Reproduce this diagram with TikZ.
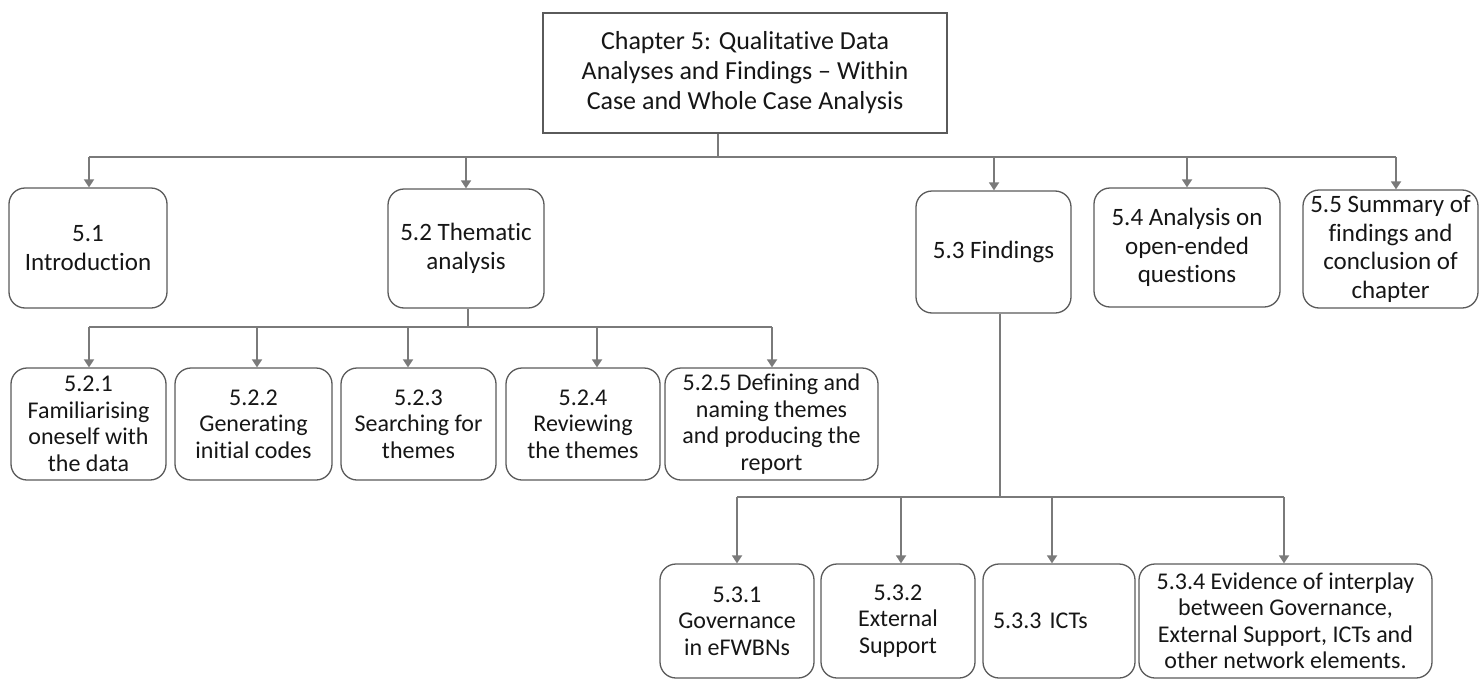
\documentclass[tikz,border=0pt]{standalone}
\usepackage{fontspec}
\setmainfont{Carlito}[Ligatures={NoCommon}]
\usetikzlibrary{arrows.meta}

\definecolor{boxline}{HTML}{5A5A5A}
\definecolor{wire}{HTML}{7A7A7A}
\definecolor{ink}{HTML}{161616}

\tikzset{
  chapterbox/.style={draw=boxline, line width=1.4pt, fill=white, text=ink,
    align=center, inner sep=0pt,
    font={\fontsize{26}{30}\selectfont}},
  roundbox/.style={draw=boxline, line width=1.3pt, fill=white, text=ink,
    rounded corners=16pt, align=center, inner sep=0pt},
  sectionbox/.style={roundbox, font={\fontsize{25}{28.5}\selectfont}},
  subbox/.style={roundbox, font={\fontsize{24}{26.5}\selectfont}},
  wireline/.style={draw=wire, line width=1.8pt},
  wirearrow/.style={wireline, -{Triangle[length=8pt,width=10pt]}},
}

\begin{document}
\begin{tikzpicture}[x=1pt, y=-1pt]
  \useasboundingbox (0,0) rectangle (1480,680);

  % chapter heading
  \node[chapterbox, minimum width=404pt, minimum height=120pt] (ch) at (745,73)
    {Chapter 5: Qualitative Data\\Analyses and Findings – Within\\Case and Whole Case Analysis};

  % first level sections
  \node[sectionbox, minimum width=158pt, minimum height=120pt] (s1) at (88,248)
    {5.1\\Introduction};
  \node[sectionbox, minimum width=156pt, minimum height=119pt] (s2) at (466,248.5)
    {5.2 Thematic\\analysis};
  \node[sectionbox, minimum width=155pt, minimum height=122pt] (s3) at (993.5,252)
    {5.3 Findings};
  \node[sectionbox, minimum width=186pt, minimum height=119pt] (s4) at (1187,247.5)
    {5.4 Analysis on\\open-ended\\questions};
  \node[sectionbox, minimum width=175pt, minimum height=118pt] (s5) at (1390.5,249)
    {5.5 Summary of\\findings and\\conclusion of\\chapter};

  % thematic analysis steps
  \node[subbox, minimum width=155pt, minimum height=112pt] (t1) at (88.5,424)
    {5.2.1\\Familiarising\\oneself with\\the data};
  \node[subbox, minimum width=157pt, minimum height=112pt] (t2) at (253.5,424)
    {5.2.2\\Generating\\initial codes};
  \node[subbox, minimum width=155pt, minimum height=112pt] (t3) at (418.5,424)
    {5.2.3\\Searching for\\themes};
  \node[subbox, minimum width=154pt, minimum height=112pt] (t4) at (583,424)
    {5.2.4\\Reviewing\\the themes};
  \node[subbox, minimum width=213pt, minimum height=112pt] (t5) at (771.5,424)
    {5.2.5 Defining and\\naming themes\\and producing the\\report};

  % findings subsections
  \node[subbox, minimum width=154pt, minimum height=114pt] (f1) at (737,621)
    {5.3.1\\Governance\\in eFWBNs};
  \node[subbox, minimum width=154pt, minimum height=114pt] (f2) at (898,621)
    {5.3.2\\External\\Support};
  \node[subbox, text width=132pt, inner xsep=10pt, align=left,
        minimum height=114pt] (f3) at (1059,621)
    {5.3.3 ICTs};
  \node[subbox, minimum width=293pt, minimum height=114pt] (f4) at (1285.5,621)
    {5.3.4 Evidence of interplay\\between Governance,\\External Support, ICTs and\\other network elements.};

  % junction points on the three buses
  \coordinate (j0) at (718,157);
  \coordinate (b1) at (89,157);
  \coordinate (b2) at (466,157);
  \coordinate (b3) at (994,157);
  \coordinate (b4) at (1187,157);
  \coordinate (b5) at (1396,157);

  \coordinate (j2) at (468,327);
  \coordinate (c1) at (89,327);
  \coordinate (c2) at (257,327);
  \coordinate (c3) at (408,327);
  \coordinate (c4) at (597,327);
  \coordinate (c5) at (772,327);

  \coordinate (j3) at (1000,497);
  \coordinate (d1) at (737,497);
  \coordinate (d2) at (901,497);
  \coordinate (d3) at (1052,497);
  \coordinate (d4) at (1284,497);

  % chapter to sections
  \draw[wireline] (ch.south -| j0) -- (j0);
  \draw[wireline] (b1) -- (b5);
  \foreach \b/\n in {b1/s1, b2/s2, b3/s3, b4/s4, b5/s5}
    \draw[wirearrow] (\b) -- (\b |- \n.north);

  % thematic analysis to its steps
  \draw[wireline] (s2.south -| j2) -- (j2);
  \draw[wireline] (c1) -- (c5);
  \foreach \c/\n in {c1/t1, c2/t2, c3/t3, c4/t4, c5/t5}
    \draw[wirearrow] (\c) -- (\c |- \n.north);

  % findings to its subsections
  \draw[wireline] (s3.south -| j3) -- (j3);
  \draw[wireline] (d1) -- (d4);
  \foreach \d/\n in {d1/f1, d2/f2, d3/f3, d4/f4}
    \draw[wirearrow] (\d) -- (\d |- \n.north);
\end{tikzpicture}
\end{document}
